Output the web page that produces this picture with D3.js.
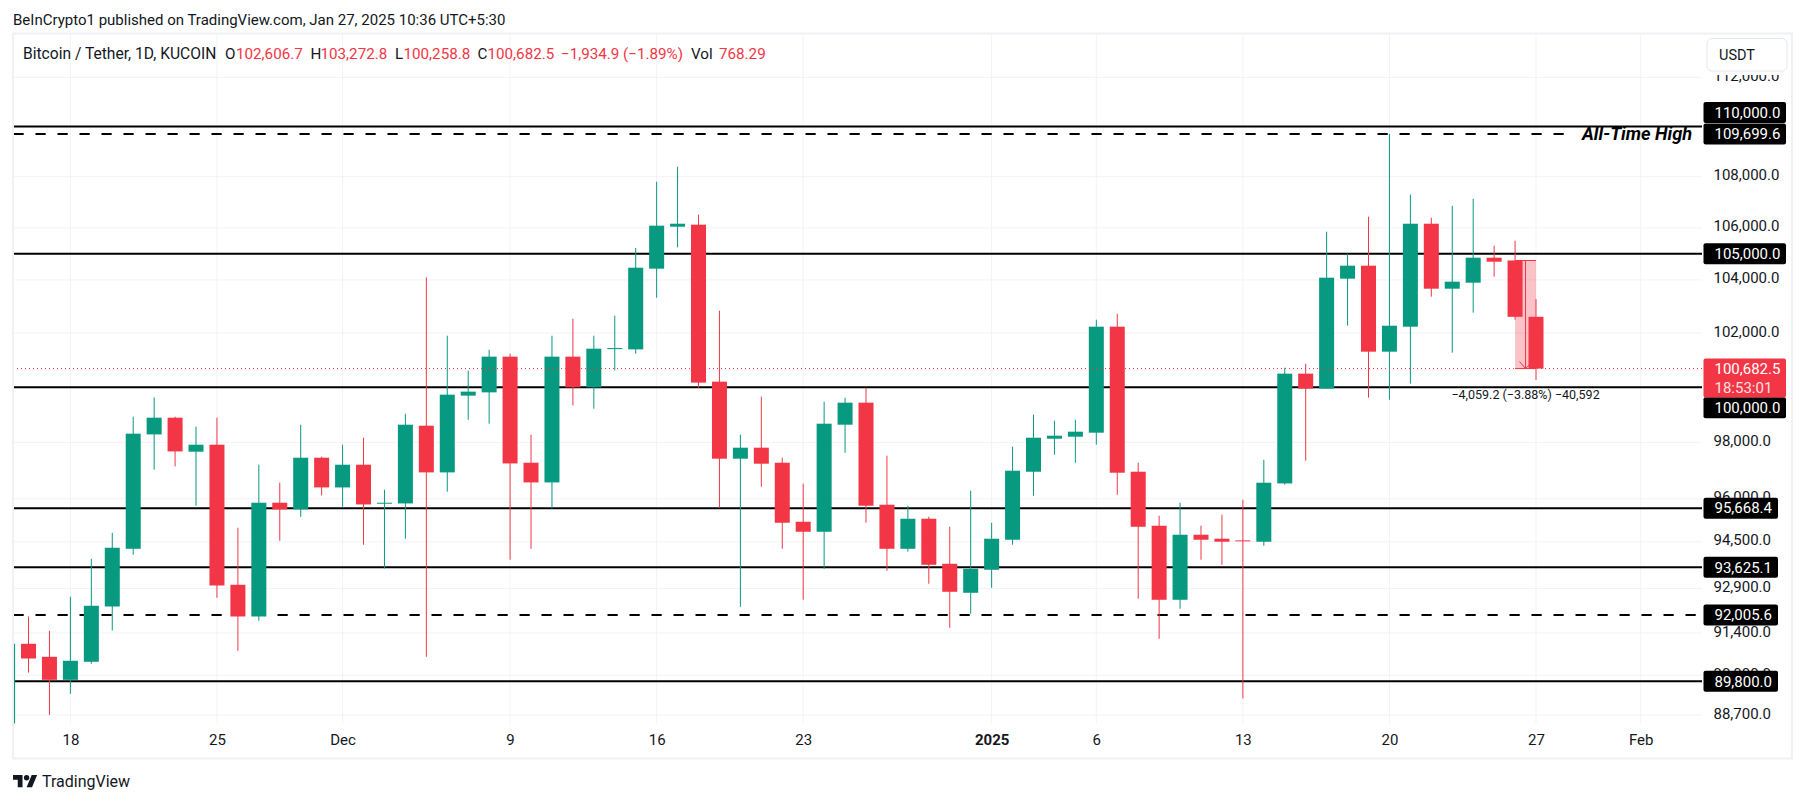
<!DOCTYPE html>
<html>
<head>
<meta charset="utf-8">
<script src="https://cdn.jsdelivr.net/npm/d3@7"></script>
<style>
  html, body { margin: 0; padding: 0; background: #fff; overflow: hidden; }
  svg { display: block; }
  text { font-family: Roboto, "Noto Sans", sans-serif; fill: #131722; }
</style>
</head>
<body>
<svg id="chart" width="1805" height="803"></svg>
<script>
// one entry per day, 15 Nov 2024 to 27 Jan 2025
const opens = [88300,91041,90609,89849,90443,92291,94260,98287,98889,97667,97917,93027,91954,95861,95626,97452,96399,97203,95826,95836,
  98600,96930,99690,99810,101122,97274,96576,101122,99993,101400,101391,104428,106044,106122,100201,97417,97810,97274,95196,94849,
  98636,99434,95791,94260,95301,93745,92755,93539,94572,96954,98132,98204,98348,102236,96954,95057,92518,94745,94607,94550,
  94503,96540,100495,99945,104047,104543,101306,102236,106160,103667,103895,104849,104741.7,102606.7];
const highs = [91041,91954,91475,92620,93916,94814,98926,99627,98926,98564,98889,94988,97203,96565,98636,97488,97917,98168,96318,99034,
  104096,101900,100605,101380,101232,98276,101900,102536,101900,102648,105221,107803,108396,106510,102836,98276,99654,97453,96530,99470,
  99617,99982,97524,95756,95371,95022,96283,95162,97845,98998,98781,98817,102498,102724,97274,95406,95861,95057,95441,95966,
  97381,100715,100862,105850,105002,106432,109699.6,107292,106394,106861,107135,105310,105502,103272.8];
const lows = [87500,90089,88700,89390,90377,91485,94054,97025,97142,95756,92586,90808,91810,94537,95371,96117,95721,94399,93584,94607,
  90609,96248,98817,98672,93882,94260,95660,99335,99215,100616,101232,103326,105245,99982,95686,92281,96424,94260,92518,93573,
  97631,95162,93505,94157,93061,91575,92045,92925,94399,96107,97560,97274,97917,96142,92552,91207,92214,93882,93710,89236,
  94364,96494,97345,99945,102273,99617,99543,100128,103364,101269,102761,104123,102498,100258.8];
const closes = [91041,90552,89849,90476,92315,94295,98313,98889,97677,97917,93003,91954,95861,95626,97452,96399,97203,95801,95861,98636,
  96930,99726,99836,101122,97249,96576,101122,99993,101417,101440,104466,106083,106160,100165,97417,97810,97239,95162,94849,98672,
  99434,95756,94260,95301,93710,92789,93573,94607,96990,98168,98240,98384,102236,96919,95022,92518,94745,94572,94503,94520,
  96565,100495,99945,104085,104543,101306,102273,106160,103667,103933,104849,104695,102606.7,100682.5];

const priceTicks = [112000,110000,108000,106000,104000,102000,100000,98000,96000,94500,92900,91400,90000,88700];
// these two sit fully behind level tags
const hiddenTicks = [110000,100000];
const dateTicks = ["2024-11-18","2024-11-25","2024-12-01","2024-12-09","2024-12-16","2024-12-23","2025-01-01","2025-01-06","2025-01-13","2025-01-20","2025-01-27","2025-02-01"];
const dateTickLabels = ["18","25","Dec","9","16","23","2025","6","13","20","27","Feb"];

const solidLevels = [110000,105000,100000,95668.4,93625.1,89800];
const dashedLevels = [109699.6,92005.6];
const lastPrice = 100682.5;
const countdown = "18:53:01";
const rangeTop = 104741.7;
const rangeDays = ["2025-01-26","2025-01-27"];
const rangeLabel = "\u22124,059.2 (\u22123.88%) \u221240,592";
const athLabel = "All-Time High";

const headerText = "BeInCrypto1 published on TradingView.com, Jan 27, 2025 10:36 UTC+5:30";
const legendTitle = "Bitcoin / Tether, 1D, KUCOIN";
const legendLetters = ["O","H","L","C"];
const legendValues = ["102,606.7","103,272.8","100,258.8","100,682.5"];
const legendChange = "\u22121,934.9 (\u22121.89%)";
const legendVolume = "768.29";

const green = "#089981", red = "#F23645", gridColor = "#f1f3f7", textColor = "#131722";
const plot = {left: 13, right: 1702, top: 34, bottom: 723.5};

const svg = d3.select("#chart");
const days = d3.utcDay.range(Date.UTC(2024,10,15), Date.UTC(2025,0,28));
const candles = days.map((d, i) => ({date: d, o: opens[i], h: highs[i], l: lows[i], c: closes[i]}));

const x = d3.scaleUtc()
  .domain([new Date("2024-11-18"), new Date("2025-01-27")])
  .range([70.4, 1536]);
// the chart is on a log price scale
const y = d3.scaleLog()
  .domain([88700, 112000])
  .range([715, 77.3]);

svg.append("rect").attr("width", 1805).attr("height", 803).attr("fill", "#fff");

svg.append("defs").append("clipPath").attr("id", "plot-clip")
  .append("rect")
  .attr("x", plot.left).attr("y", plot.top)
  .attr("width", plot.right - plot.left).attr("height", plot.bottom - plot.top);

// grid
const grid = svg.append("g").attr("stroke", gridColor).attr("stroke-width", 1);
grid.selectAll(".h").data(priceTicks).join("line")
  .attr("x1", plot.left).attr("x2", plot.right)
  .attr("y1", d => y(d)).attr("y2", d => y(d));
grid.selectAll(".v").data(dateTicks).join("line")
  .attr("x1", d => x(new Date(d))).attr("x2", d => x(new Date(d)))
  .attr("y1", plot.top).attr("y2", plot.bottom);

// axes
const yAxis = svg.append("g")
  .attr("transform", `translate(${plot.right},0)`)
  .call(d3.axisRight(y)
    .tickValues(priceTicks.filter(d => !hiddenTicks.includes(d)))
    .tickSize(0).tickPadding(11.5).tickFormat(d3.format(",.1f")));
yAxis.select(".domain").remove();
yAxis.selectAll("text").attr("font-size", 15).attr("dy", "0.2em").style("font-family", "Roboto").style("fill", textColor);

const xAxis = svg.append("g")
  .attr("transform", `translate(0,${plot.bottom})`)
  .call(d3.axisBottom(x).tickValues(dateTicks.map(d => new Date(d))).tickSize(0).tickPadding(11)
    .tickFormat((d, i) => dateTickLabels[i]));
xAxis.select(".domain").remove();
xAxis.selectAll("text")
  .attr("font-size", 15)
  .style("font-family", "Roboto")
  .style("fill", textColor)
  .attr("font-weight", (d, i) => dateTickLabels[i] === "2025" ? 700 : 400);

// levels sit under the candles
const levels = svg.append("g").attr("stroke", "#000").attr("stroke-width", 2);
levels.selectAll(".solid").data(solidLevels).join("line")
  .attr("x1", plot.left).attr("x2", plot.right)
  .attr("y1", d => y(d)).attr("y2", d => y(d));
levels.selectAll(".dashed").data(dashedLevels).join("line")
  .attr("stroke-dasharray", "10.2,11.8")
  .attr("x1", plot.left + 0.5)
  .attr("x2", d => d === 109699.6 ? 1565 : 1696)
  .attr("y1", d => y(d)).attr("y2", d => y(d));

// measured range behind the last two candles
const rangeX0 = x(new Date(rangeDays[0])), rangeX1 = x(new Date(rangeDays[1]));
svg.append("rect")
  .attr("x", rangeX0).attr("width", rangeX1 - rangeX0)
  .attr("y", y(rangeTop)).attr("height", y(lastPrice) - y(rangeTop))
  .attr("fill", red).attr("fill-opacity", 0.3);

// candles
const bodyWidth = 15;
const candleG = svg.append("g").attr("clip-path", "url(#plot-clip)");
const candle = candleG.selectAll("g").data(candles).join("g")
  .attr("fill", d => d.c >= d.o ? green : red)
  .attr("stroke", d => d.c >= d.o ? green : red);
candle.append("line")
  .attr("stroke-width", 1)
  .attr("x1", d => x(d.date)).attr("x2", d => x(d.date))
  .attr("y1", d => y(d.h)).attr("y2", d => y(d.l));
candle.append("rect")
  .attr("stroke", "none")
  .attr("x", d => x(d.date) - bodyWidth / 2)
  .attr("width", bodyWidth)
  .attr("y", d => y(Math.max(d.o, d.c)))
  .attr("height", d => Math.max(1, Math.abs(y(d.o) - y(d.c))));

// last price line
svg.append("line")
  .attr("x1", plot.left).attr("x2", plot.right)
  .attr("y1", y(lastPrice)).attr("y2", y(lastPrice))
  .attr("stroke", red).attr("stroke-width", 1).attr("stroke-dasharray", "1,3");

// range tool lines and arrow
const rangeMid = (rangeX0 + rangeX1) / 2;
const rangeG = svg.append("g").attr("stroke", red).attr("stroke-width", 1).attr("fill", "none");
rangeG.append("line").attr("x1", rangeX0).attr("x2", rangeX1).attr("y1", y(rangeTop)).attr("y2", y(rangeTop));
rangeG.append("line").attr("x1", rangeX0).attr("x2", rangeX1).attr("y1", y(lastPrice)).attr("y2", y(lastPrice));
rangeG.append("line").attr("x1", rangeMid).attr("x2", rangeMid).attr("y1", y(rangeTop)).attr("y2", y(lastPrice));
rangeG.append("path").attr("d", d3.line()([[rangeMid - 6, y(lastPrice) - 7], [rangeMid, y(lastPrice)], [rangeMid + 4, y(lastPrice) - 4]]));
svg.append("text")
  .attr("x", rangeMid).attr("y", y(lastPrice) + 30)
  .attr("text-anchor", "middle").attr("font-size", 12.5)
  .text(rangeLabel);

svg.append("text")
  .attr("x", 1582).attr("y", y(109699.6) + 5.5)
  .attr("font-size", 18.2).attr("font-weight", 700).attr("font-style", "italic")
  .style("fill", "#000")
  .text(athLabel);

// outer frame
svg.append("rect")
  .attr("x", 13).attr("y", 33.5).attr("width", 1779).attr("height", 725)
  .attr("fill", "none").attr("stroke", "#eff1f4").attr("stroke-width", 2);

// price labels on the axis
const labelNudge = {110000: -14, 100000: 20.5};
const allLevels = solidLevels.concat(dashedLevels);
const tag = svg.selectAll(".tag").data(allLevels).join("g")
  .attr("transform", d => `translate(1703.5,${y(d) + (labelNudge[d] || 0)})`);
tag.append("rect")
  .attr("y", -10.5).attr("height", 21).attr("rx", 2)
  .attr("width", d => d >= 100000 ? 82.5 : 74.5)
  .attr("fill", "#000");
tag.append("text")
  .attr("x", 11).attr("dy", "0.35em").attr("font-size", 15)
  .style("fill", "#fff")
  .text(d => d3.format(",.1f")(d));

const lastTag = svg.append("g").attr("transform", `translate(1703.5,${y(lastPrice) - 10})`);
lastTag.append("rect").attr("width", 82.5).attr("height", 39).attr("rx", 2).attr("fill", red);
lastTag.append("text").attr("x", 11).attr("y", 15.5).attr("font-size", 15).style("fill", "#fff").text(d3.format(",.1f")(lastPrice));
lastTag.append("text").attr("x", 11).attr("y", 34).attr("font-size", 15).style("fill", "#fff").style("opacity", 0.85).text(countdown);

// currency button and its white margin cover the top tick
svg.append("rect")
  .attr("x", 1703).attr("y", 36).attr("width", 86).attr("height", 39)
  .attr("fill", "#fff");
svg.append("rect")
  .attr("x", 1707).attr("y", 38.5).attr("width", 80).attr("height", 32.5).attr("rx", 5)
  .attr("fill", "#fff").attr("stroke", "#e6e8ee").attr("stroke-width", 1);
svg.append("text").attr("x", 1719).attr("y", 59.5).attr("font-size", 14.5).text("USDT");

// header and legend
svg.append("text").attr("x", 13).attr("y", 25).attr("font-size", 15).text(headerText);
svg.append("text").attr("x", 23).attr("y", 58.5).attr("font-size", 15.6).text(legendTitle);
const letterX = [225, 310.5, 395, 477.5];
const valueX = [236, 320.5, 403.5, 487.5];
legendLetters.forEach((s, i) => {
  svg.append("text").attr("x", letterX[i]).attr("y", 58.5).attr("font-size", 15.2).text(s);
  svg.append("text").attr("x", valueX[i]).attr("y", 58.5).attr("font-size", 15.2).style("fill", red).text(legendValues[i]);
});
svg.append("text").attr("x", 561).attr("y", 58.5).attr("font-size", 15.2).style("fill", red).text(legendChange);
svg.append("text").attr("x", 691).attr("y", 58.5).attr("font-size", 15.2).text("Vol");
svg.append("text").attr("x", 719).attr("y", 58.5).attr("font-size", 15.2).style("fill", red).text(legendVolume);

// footer logo
const logo = svg.append("g").attr("transform", "translate(13,775) scale(0.68) translate(0,-4)").attr("fill", "#131722");
logo.append("path").attr("d", "M14 22H7V11H0V4h14v18zM28 22h-8l7.5-18h8L28 22z");
logo.append("circle").attr("cx", 20).attr("cy", 8).attr("r", 4);
svg.append("text").attr("x", 42).attr("y", 787).attr("font-size", 16).text("TradingView");
</script>
</body>
</html>
